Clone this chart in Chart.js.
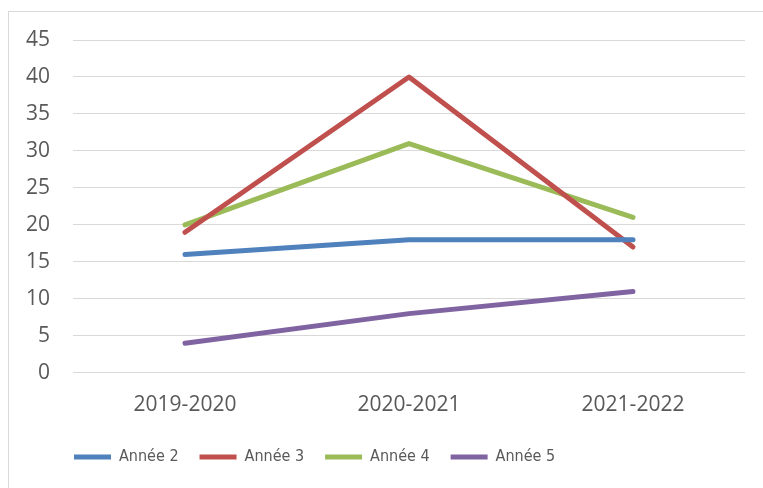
<!DOCTYPE html>
<html>
<head>
<meta charset="utf-8">
<script src="https://cdn.jsdelivr.net/npm/chart.js@4/dist/chart.umd.min.js"></script>
<style>
  html, body { margin: 0; padding: 0; background: #fff; }
  #khung { position: absolute; left: 8px; top: 11px; width: 800px; height: 500px; border: 1px solid #d9d9d9; }
  #wrap { position: absolute; left: 0; top: 0; width: 763px; height: 488px; }
</style>
</head>
<body>
<div id="khung"></div>
<div id="wrap"><canvas id="lineChart"></canvas></div>
<script>
// Dữ liệu biểu đồ
const annees = ['2019-2020', '2020-2021', '2021-2022'];
const annee2 = [16, 18, 18];
const annee3 = [19, 40, 17];
const annee4 = [20, 31, 21];
const annee5 = [4, 8, 11];
const nomsSeries = ['Année 2', 'Année 3', 'Année 4', 'Année 5'];
const couleurs = ['#4F81BD', '#C0504D', '#9BBB59', '#8064A2'];

const textColor = '#595959';

// dời chú thích sang trái và lên trên giống bản gốc
const dichLegend = {
    id: 'dichLegend',
    afterLayout(chart) {
        const lg = chart.legend;
        if (!lg) return;
        lg.left += 45;
        lg.right += 45;
        lg.top -= 10;
        lg.bottom -= 10;
    }
};

const ctx = document.getElementById('lineChart').getContext('2d');
const lineChart = new Chart(ctx, {
    type: 'line',
    data: {
        labels: annees,
        datasets: [annee2, annee3, annee4, annee5].map((d, i) => ({
            label: nomsSeries[i],
            data: d,
            borderColor: couleurs[i],
            backgroundColor: couleurs[i],
            borderWidth: 5,
            borderCapStyle: 'round',
            borderJoinStyle: 'round',
            pointRadius: 0,
            pointHoverRadius: 0,
            pointStyle: 'line',
            tension: 0
        }))
    },
    options: {
        responsive: true,
        maintainAspectRatio: false,
        animation: false,
        layout: { padding: { left: 8, right: 18, top: 40, bottom: 3 } },
        scales: {
            x: {
                offset: true,
                grid: { display: false, drawTicks: false },
                border: { display: false },
                ticks: { color: textColor, padding: 20, font: { family: 'Open Sans', size: 21 } }
            },
            y: {
                min: 0,
                max: 45,
                grid: { color: '#d9d9d9', lineWidth: 1, drawTicks: false },
                border: { display: false },
                ticks: { stepSize: 5, color: textColor, padding: 23, font: { family: 'Open Sans', size: 21 } },
                afterFit(scale) { scale.width = 65; }
            }
        },
        plugins: {
            legend: {
                position: 'bottom',
                align: 'start',
                labels: {
                    usePointStyle: true,
                    pointStyleWidth: 37,
                    boxHeight: 16,
                    padding: 21,
                    color: textColor,
                    font: { family: "'DejaVu Sans Condensed', 'Open Sans', sans-serif", size: 16 }
                }
            },
            tooltip: { enabled: false }
        }
    },
    plugins: [dichLegend]
});
</script>
</body>
</html>
